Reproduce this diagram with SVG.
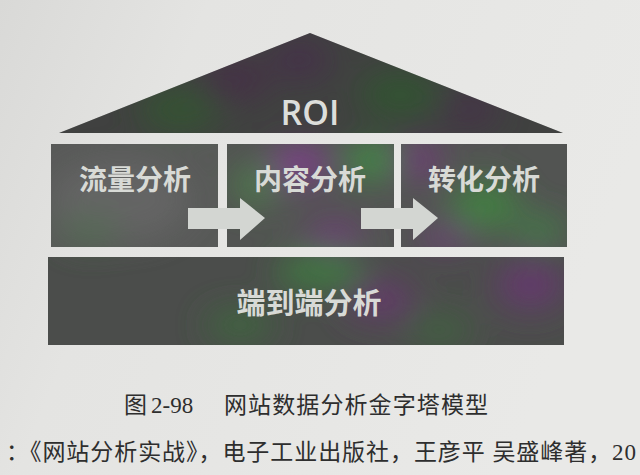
<svg xmlns="http://www.w3.org/2000/svg" width="640" height="475" viewBox="0 0 640 475">
<defs>
<style>
.lbl{font-family:"Noto Sans CJK SC","Noto Sans",sans-serif;font-weight:700;fill:#d8dad6;text-anchor:middle}
.roi{font-family:"Open Sans","Liberation Sans",sans-serif;font-weight:600;fill:#dcdedb;text-anchor:middle}
.cap{font-family:"Liberation Serif","Noto Sans CJK SC",serif;fill:#2e2e2e}
.arrow{fill:#d3d6d2}
</style>
<linearGradient id="paper" x1="0" y1="0" x2="1" y2="0.3">
<stop offset="0" stop-color="#d9d9d7"/>
<stop offset="0.3" stop-color="#e4e4e2"/>
<stop offset="1" stop-color="#e9e9e7"/>
</linearGradient>
<filter id="blur" x="-50%" y="-50%" width="200%" height="200%"><feGaussianBlur stdDeviation="16"/></filter>
<pattern id="tex" patternUnits="userSpaceOnUse" x="0" y="0" width="640" height="475">
<rect width="640" height="475" fill="#525452"/>
<g filter="url(#blur)" opacity="0.9">
<ellipse cx="120" cy="200" rx="70" ry="40" fill="#646464"/>
<ellipse cx="180" cy="110" rx="40" ry="20" fill="#3f6e3c"/>
<ellipse cx="235" cy="80" rx="35" ry="20" fill="#5a3a5c"/>
<ellipse cx="300" cy="60" rx="30" ry="18" fill="#5a3a60"/>
<ellipse cx="400" cy="95" rx="40" ry="22" fill="#3d6e3c"/>
<ellipse cx="470" cy="110" rx="30" ry="16" fill="#5a3c5e"/>
<ellipse cx="300" cy="165" rx="30" ry="22" fill="#7e3f8a"/>
<ellipse cx="370" cy="160" rx="25" ry="20" fill="#3f8e45"/>
<ellipse cx="255" cy="185" rx="22" ry="20" fill="#4b7e49"/>
<ellipse cx="335" cy="235" rx="30" ry="15" fill="#6e3e78"/>
<ellipse cx="420" cy="160" rx="22" ry="22" fill="#6e3c76"/>
<ellipse cx="485" cy="205" rx="35" ry="25" fill="#3f8240"/>
<ellipse cx="445" cy="238" rx="28" ry="12" fill="#6e3e78"/>
<ellipse cx="540" cy="230" rx="25" ry="15" fill="#3f8044"/>
<ellipse cx="90" cy="230" rx="30" ry="15" fill="#4c6e4c"/>
<ellipse cx="320" cy="272" rx="45" ry="16" fill="#3f8e42"/>
<ellipse cx="380" cy="300" rx="35" ry="20" fill="#6e3c76"/>
<ellipse cx="530" cy="285" rx="35" ry="25" fill="#6e3c78"/>
<ellipse cx="240" cy="325" rx="35" ry="15" fill="#3f7240"/>
<ellipse cx="440" cy="330" rx="30" ry="12" fill="#3f7240"/>
</g>
</pattern>
</defs>
<rect width="640" height="475" fill="url(#paper)"/>
<g id="roof">
<polygon points="310,33 563,133 59,133" fill="url(#tex)"/>
<polygon points="310,33 563,133 59,133" fill="#000" opacity="0.22"/>
<text class="roi" x="310" y="125" font-size="34">ROI</text>
</g>
<g id="traffic">
<rect x="51" y="144" width="167" height="103" fill="url(#tex)"/>
<rect x="51" y="144" width="167" height="103" fill="#6a6a6a" opacity="0.25"/>
<text class="lbl" x="135" y="190" font-size="28">流量分析</text>
</g>
<g id="content">
<rect x="227" y="144" width="167" height="103" fill="url(#tex)"/>
<text class="lbl" x="310" y="190" font-size="28">内容分析</text>
</g>
<g id="conversion">
<rect x="401" y="144" width="166" height="103" fill="url(#tex)"/>
<text class="lbl" x="484" y="190" font-size="28">转化分析</text>
</g>
<g id="endtoend">
<rect x="48" y="257" width="516" height="88" fill="url(#tex)"/>
<rect x="48" y="257" width="516" height="88" fill="#000" opacity="0.08"/>
<text class="lbl" x="309" y="314" font-size="29">端到端分析</text>
</g>
<g id="connectors">
<polygon class="arrow" points="188,208 240,208 240,198 265,218 240,240 240,229 188,229"/>
<polygon class="arrow" points="361,208 413,208 413,198 438,218 413,240 413,229 361,229"/>
</g>
<g id="caption">
<text class="cap" y="413" font-size="23"><tspan x="124">图</tspan><tspan x="151">2-98</tspan><tspan x="224" textLength="264" lengthAdjust="spacing">网站数据分析金字塔模型</tspan></text>
<text class="cap" x="6" y="460" font-size="23" textLength="630" lengthAdjust="spacing">：《网站分析实战》，电子工业出版社，王彦平 吴盛峰著，20</text>
</g>
</svg>
